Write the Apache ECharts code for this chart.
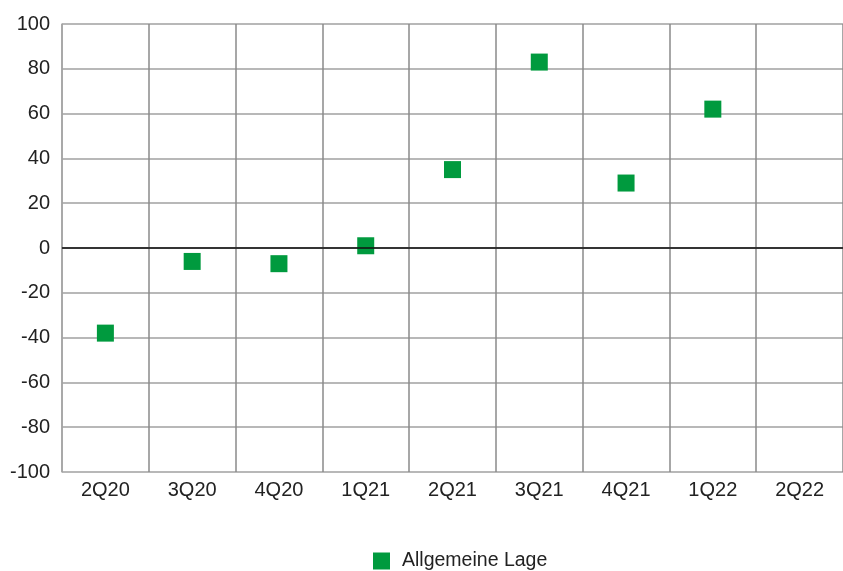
<!DOCTYPE html>
<html><head><meta charset="utf-8">
<script src="https://cdn.jsdelivr.net/npm/echarts@6/dist/echarts.min.js"></script>
<style>html,body{margin:0;padding:0;background:#fff}#c{width:843px;height:571px}</style>
</head><body><div id="c"></div>
<script>
const categories = ['2Q20','3Q20','4Q20','1Q21','2Q21','3Q21','4Q21','1Q22','2Q22'];
const values = [-38, -6, -7, 1, 35, 83, 29, 62, null];
const seriesName = 'Allgemeine Lage';

const chart = echarts.init(document.getElementById('c'));
const font = 'Liberation Sans';
chart.setOption({
  animation: false,
  grid: {left: 62, right: 0, top: 24, bottom: 99},
  legend: {
    top: 546, left: 368, itemWidth: 17, itemHeight: 17, itemGap: 12,
    icon: 'rect',
    textStyle: {fontFamily: font, fontSize: 19.5, color: '#222', padding: [0, 0, 0, 7]},
    data: [seriesName]
  },
  xAxis: {
    type: 'category', data: categories, boundaryGap: true,
    axisLine: {lineStyle: {color: '#999', width: 1.5}},
    axisTick: {show: false},
    axisLabel: {fontFamily: font, fontSize: 20, color: '#222', margin: 8},
    splitLine: {show: true, lineStyle: {color: '#8a8a8a', width: 1.5}}
  },
  yAxis: {
    type: 'value', min: -100, max: 100, interval: 20,
    axisLine: {show: true, lineStyle: {color: '#aaa', width: 1.5}},
    axisTick: {show: false},
    axisLabel: {fontFamily: font, fontSize: 20, color: '#222', margin: 12},
    splitLine: {show: true, lineStyle: {color: '#a0a0a0', width: 1.5}}
  },
  series: [{
    name: seriesName, type: 'scatter', data: values,
    symbol: 'rect', symbolSize: 17,
    itemStyle: {color: '#009a3e', opacity: 1},
    markLine: {
      silent: true, symbol: 'none', label: {show: false},
      lineStyle: {color: '#111', width: 1.5, type: 'solid'},
      data: [{yAxis: 0}]
    }
  }]
});
</script></body></html>
